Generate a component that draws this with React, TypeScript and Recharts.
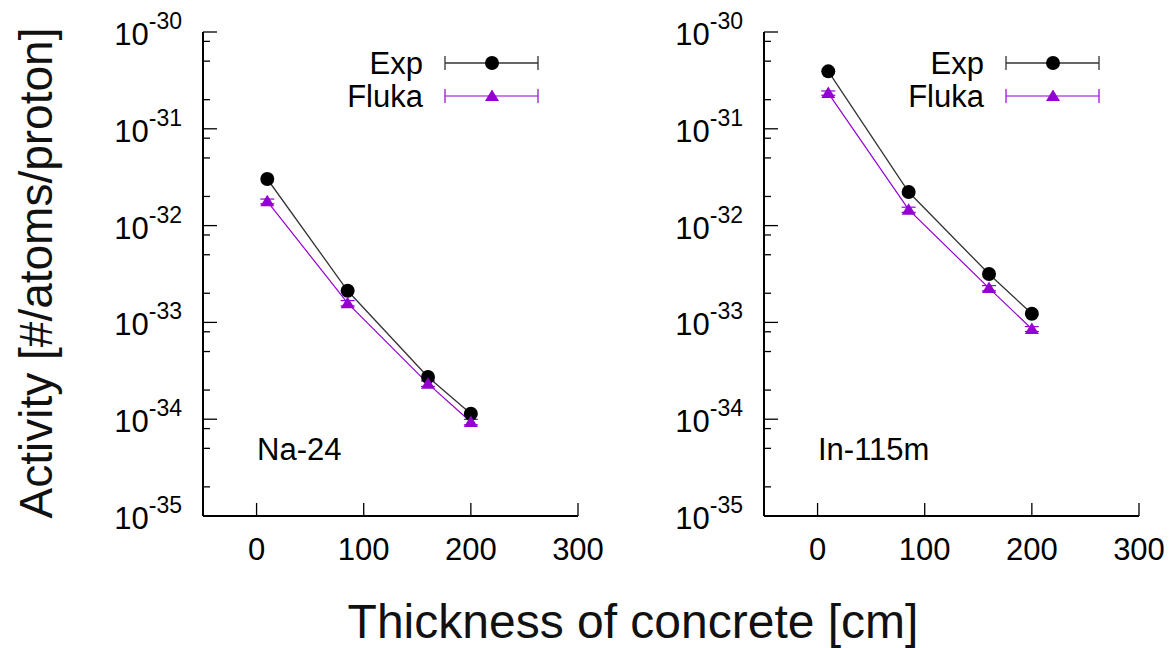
import React from 'react';
import { LineChart, Line, XAxis, YAxis, ErrorBar } from 'recharts';

const thickness = [10, 85, 160, 200];
const na24Exp = [3.03e-32, 2.12e-33, 2.73e-34, 1.14e-34];
const na24Fluka = [1.78e-32, 1.58e-33, 2.33e-34, 9.35e-35];
const na24FlukaErr = [1.0e-33, 1.0e-34, 1.5e-35, 6e-36];
const in115mExp = [3.92e-31, 2.22e-32, 3.16e-33, 1.23e-33];
const in115mFluka = [2.34e-31, 1.46e-32, 2.26e-33, 8.55e-34];
const in115mFlukaErr = [1.2e-32, 9e-34, 1.4e-34, 5e-35];

const xTicks = [0, 100, 200, 300];
const yMajor = [1e-35, 1e-34, 1e-33, 1e-32, 1e-31, 1e-30];
const yMinorMult = [2, 5, 8];
const seriesNames = ['Exp', 'Fluka'];
const panelLabels = ['Na-24', 'In-115m'];
const yTitle = 'Activity [#/atoms/proton]';
const xTitle = 'Thickness of concrete [cm]';

const yTicks: number[] = [];
yMajor.forEach((m, i) => {
  yTicks.push(m);
  if (i < yMajor.length - 1) yMinorMult.forEach((k) => yTicks.push(m * k));
});

const FONT = '"Liberation Sans", Arial, Helvetica, sans-serif';
const PURPLE = '#9400D3';

const isMajor = (v: number) => {
  const e = Math.round(Math.log10(v));
  return Math.abs(v / Math.pow(10, e) - 1) < 1e-6;
};

const LeftTick = (props: any) => {
  const { x, y, payload } = props;
  const v = payload.value;
  const major = isMajor(v);
  const e = Math.round(Math.log10(v));
  return (
    <g>
      <line x1={x} x2={x + (major ? 14 : 7)} y1={y} y2={y} stroke="#000" strokeWidth={1.3} />
      {major && (
        <text x={x - 21} y={y + 13} textAnchor="end" fontFamily={FONT} fontSize={31} fill="#000">
          <tspan>10</tspan>
          <tspan dy={-16} fontSize={23}>{String(e)}</tspan>
        </text>
      )}
    </g>
  );
};

const RightTick = (props: any) => {
  const { x, y, payload } = props;
  const major = isMajor(payload.value);
  return <line x1={x} x2={x - (major ? 14 : 7)} y1={y} y2={y} stroke="#000" strokeWidth={1.3} />;
};

const BottomTick = (props: any) => {
  const { x, y, payload } = props;
  return (
    <g>
      <line x1={x} x2={x} y1={y} y2={y - 13} stroke="#000" strokeWidth={1.3} />
      <text x={x} y={y + 44} textAnchor="middle" fontFamily={FONT} fontSize={31} fill="#000">
        {String(payload.value)}
      </text>
    </g>
  );
};

const TopTick = (props: any) => {
  const { x, y } = props;
  return <line x1={x} x2={x} y1={y} y2={y + 13} stroke="#000" strokeWidth={1.3} />;
};

const ExpDot = (props: any) => {
  const { cx, cy } = props;
  if (cx == null || cy == null) return null;
  return <circle cx={cx} cy={cy} r={7} fill="#000" />;
};

const FlukaDot = (props: any) => {
  const { cx, cy } = props;
  if (cx == null || cy == null) return null;
  return <polygon points={`${cx},${cy - 6.5} ${cx - 7},${cy + 5} ${cx + 7},${cy + 5}`} fill={PURPLE} />;
};

const panels = [
  { label: panelLabels[0], exp: na24Exp, fluka: na24Fluka, err: na24FlukaErr, left: 0 },
  { label: panelLabels[1], exp: in115mExp, fluka: in115mFluka, err: in115mFlukaErr, left: 561 },
];

const CW = 620;
const CH = 580;
const PL = 203;
const PR = 578;

const Panel = ({ p }: { p: (typeof panels)[number] }) => {
  const data = thickness.map((t, i) => ({ x: t, exp: p.exp[i], fluka: p.fluka[i], err: p.err[i] }));
  return (
    <div style={{ position: 'absolute', left: p.left, top: 0, width: CW, height: CH }}>
      <LineChart width={CW} height={CH} data={data} margin={{ top: 32, right: CW - PR, bottom: 0, left: 0 }}>
        <XAxis xAxisId="b" dataKey="x" type="number" domain={[-50, 300]} ticks={xTicks} interval={0}
          orientation="bottom" height={64} tickSize={0} tickMargin={0} tick={(pr: any) => <BottomTick {...pr} />}
          axisLine={{ stroke: '#000', strokeWidth: 2 }} tickLine={false} allowDataOverflow />
        <XAxis xAxisId="t" dataKey="x" type="number" domain={[-50, 300]} ticks={xTicks.slice(0, 3)} interval={0}
          orientation="top" height={0} tickSize={0} tickMargin={0} tick={(pr: any) => <TopTick {...pr} />}
          axisLine={{ stroke: '#000', strokeWidth: 2 }} tickLine={false} allowDataOverflow />
        <YAxis yAxisId="l" type="number" scale="log" domain={[1e-35, 1e-30]} ticks={yTicks} interval={0}
          width={PL} tickSize={0} tickMargin={0} tick={(pr: any) => <LeftTick {...pr} />}
          axisLine={{ stroke: '#000', strokeWidth: 2 }} tickLine={false} allowDataOverflow />
        <YAxis yAxisId="r" orientation="right" type="number" scale="log" domain={[1e-35, 1e-30]} ticks={yTicks} interval={0}
          width={0} tickSize={0} tickMargin={0} tick={(pr: any) => <RightTick {...pr} />}
          axisLine={{ stroke: '#000', strokeWidth: 2 }} tickLine={false} allowDataOverflow />
        <Line xAxisId="b" yAxisId="l" dataKey="exp" stroke="#333" strokeWidth={1.3} dot={(pr: any) => <ExpDot key={pr.index} {...pr} />}
          isAnimationActive={false} />
        <Line xAxisId="b" yAxisId="l" dataKey="fluka" stroke={PURPLE} strokeWidth={1.2} dot={(pr: any) => <FlukaDot key={pr.index} {...pr} />}
          isAnimationActive={false}>
          <ErrorBar dataKey="err" direction="y" width={7} stroke={PURPLE} strokeWidth={1.2} />
        </Line>
      </LineChart>
      <svg width={CW} height={CH} style={{ position: 'absolute', left: 0, top: 0, pointerEvents: 'none' }}>
        <g fontFamily={FONT} fontSize={31} fill="#000">
          <text x={PL + 220} y={74} textAnchor="end">{seriesNames[0]}</text>
          <text x={PL + 220} y={107} textAnchor="end">{seriesNames[1]}</text>
          <text x={PL + 54} y={460}>{p.label}</text>
        </g>
        <g stroke="#333" strokeWidth={1.3}>
          <line x1={PL + 242} x2={PL + 335} y1={63} y2={63} />
          <line x1={PL + 242} x2={PL + 242} y1={56} y2={70} />
          <line x1={PL + 335} x2={PL + 335} y1={56} y2={70} />
        </g>
        <circle cx={PL + 289} cy={63} r={7} fill="#000" />
        <g stroke={PURPLE} strokeWidth={1.2}>
          <line x1={PL + 242} x2={PL + 335} y1={96} y2={96} />
          <line x1={PL + 242} x2={PL + 242} y1={89} y2={103} />
          <line x1={PL + 335} x2={PL + 335} y1={89} y2={103} />
        </g>
        <polygon points={`${PL + 289},${89.5} ${PL + 282},${101} ${PL + 296},${101}`} fill={PURPLE} />
      </svg>
    </div>
  );
};

export default function App() {
  return (
    <div style={{ position: 'absolute', left: 0, top: 0, width: 1169, height: 648, background: '#fff', overflow: 'hidden' }}>
      {panels.map((p) => (
        <Panel key={p.label} p={p} />
      ))}
      <svg width={1169} height={648} style={{ position: 'absolute', left: 0, top: 0, pointerEvents: 'none' }}>
        <text transform="translate(52,273) rotate(-90)" textAnchor="middle" fontFamily={FONT} fontSize={46} fill="#111">
          {yTitle}
        </text>
        <text x={633} y={638} textAnchor="middle" fontFamily={FONT} fontSize={48} fill="#111">
          {xTitle}
        </text>
      </svg>
    </div>
  );
}
